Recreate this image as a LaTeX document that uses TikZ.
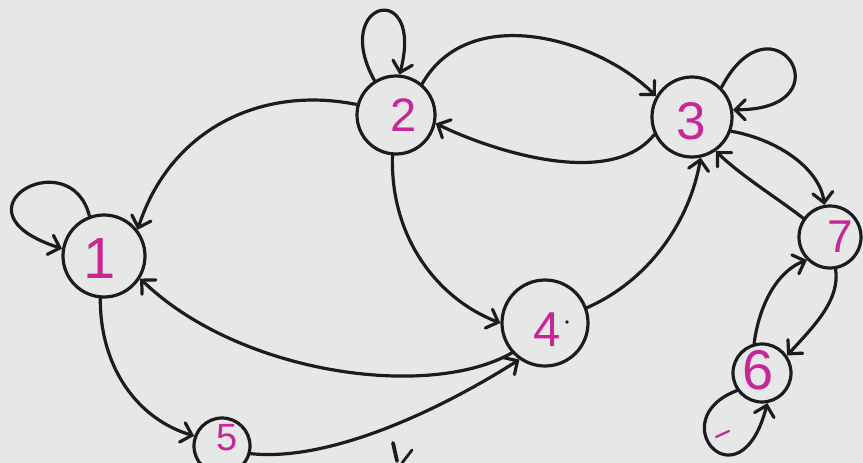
\documentclass[tikz,border=0pt]{standalone}
\usepackage{fontspec}
\setmainfont{Liberation Sans}
\usetikzlibrary{arrows.meta}
\definecolor{paper}{RGB}{229,232,230}
\definecolor{ink}{RGB}{28,28,32}
\definecolor{pen}{RGB}{200,38,150}
\begin{document}
\begin{tikzpicture}[x=1pt,y=-1pt,
  state/.style={circle,draw=ink,line width=3.2pt,inner sep=0pt},
  lbl/.style={text=pen,inner sep=0pt},
  link/.style={draw=ink,line width=3.2pt,line cap=round,
    -{Straight Barb[length=10pt,width=20pt,line cap=round]}}]
\fill[paper] (0,0) rectangle (863,463);
\useasboundingbox (0,0) rectangle (863,463);
% states
\node[state,minimum size=82pt] (n1) at (104,256) {};
\node[state,minimum size=78pt] (n2) at (396,115) {};
\node[state,minimum size=80pt] (n3) at (692,117) {};
\node[state,minimum size=86pt] (n4) at (545,323) {};
\node[state,minimum size=56pt] (n5) at (222,446) {};
\node[state,minimum size=58pt] (n6) at (762,373) {};
\node[state,minimum size=62pt] (n7) at (830,237) {};
% labels
\node[lbl,font=\fontsize{58}{58}\selectfont] (t1) at (100,259) {1};
\node[lbl,font=\fontsize{47}{47}\selectfont] (t2) at (404,115) {2};
\node[lbl,font=\fontsize{53}{53}\selectfont] (t3) at (691,121) {3};
\node[lbl,font=\fontsize{49}{49}\selectfont] (t4) at (547,330) {4};
\node[lbl,font=\fontsize{38}{38}\selectfont] (t5) at (227,438) {5};
\node[lbl,font=\fontsize{56}{56}\selectfont] (t6) at (758,370) {6};
\node[lbl,font=\fontsize{46}{46}\selectfont] (t7) at (840,237) {7};
% self loops
\draw[link] (n1.110) .. controls (70,140) and (-55,211) .. (n1.170);
\draw[link] (n2.122) .. controls (330,0) and (425,-22) .. (n2.85);
\draw[link] (n3.45) .. controls (773,-11) and (850,110) .. (n3.10);
\draw[link] (n6.-145) .. controls (660,420) and (740,510) .. (n6.-80);
% edges
\draw[link] (n2.50) .. controls (470,0) and (600,40) .. (n3.150);
\draw[link] (n3.205) .. controls (610,190) and (490,150) .. (n2.-12);
\draw[link] (n2.165) .. controls (260,85) and (170,130) .. (n1.38);
\draw[link] (n4.222) .. controls (430,400) and (240,375) .. (n1.-32);
\draw[link] (n5.-15) .. controls (330,462) and (440,410) .. (n4.235);
\draw[link] (n1.265) .. controls (100,370) and (140,420) .. (n5.160);
\draw[link] (n2.265) .. controls (390,240) and (440,300) .. (n4.180);
\draw[link] (n4.20) .. controls (650,280) and (690,220) .. (n3.-78);
\draw[link] (n3.-20) .. controls (780,140) and (820,170) .. (n7.100);
\draw[link] (n7.145) .. controls (780,200) and (740,175) .. (n3.-55);
\draw[link] (n6.105) .. controls (760,300) and (780,270) .. (n7.-135);
\draw[link] (n7.-80) .. controls (840,300) and (815,325) .. (n6.35);
% stray marks
\fill[ink] (567,322) circle (1.8pt);
\draw[pen,line width=2.2pt,line cap=round] (716,437) -- (729,431);
\draw[ink,line width=3.8pt,line cap=round] (393,443) -- (397,461);
\draw[ink,line width=2.8pt,line cap=round] (412,450) -- (402,463);
\end{tikzpicture}
\end{document}
